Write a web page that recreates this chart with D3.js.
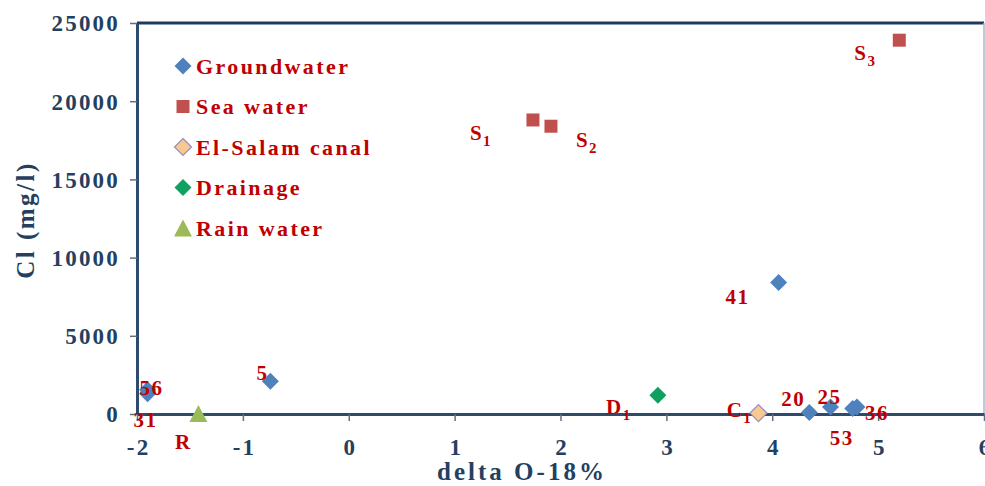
<!DOCTYPE html>
<html><head><meta charset="utf-8">
<script src="https://cdn.jsdelivr.net/npm/d3@7"></script>
<style>html,body{margin:0;padding:0;background:#fff;} svg{display:block;}</style>
</head><body>
<svg id="chart" width="985" height="486"></svg>
<script>
// Groundwater wells
const gwIds = ["56", "31", "5", "41", "20", "25", "36", "53"];
const gwO18 = [-1.9, -1.9, -0.74, 4.06, 4.35, 4.55, 4.8, 4.76];
const gwCl = [1550, 1300, 2100, 8400, 100, 450, 450, 350];
// Sea water samples
const seaIds = ["S1", "S2", "S3"];
const seaO18 = [1.74, 1.91, 5.2];
const seaCl = [18800, 18400, 23900];
// El-Salam canal
const canalIds = ["C1"];
const canalO18 = [3.87];
const canalCl = [60];
// Drainage
const drainIds = ["D1"];
const drainO18 = [2.92];
const drainCl = [1200];
// Rain water
const rainIds = ["R"];
const rainO18 = [-1.42];
const rainCl = [30];

const seriesNames = ["Groundwater", "Sea water", "El-Salam canal", "Drainage", "Rain water"];
const xTicks = [-2, -1, 0, 1, 2, 3, 4, 5, 6];
const yTicks = [0, 5000, 10000, 15000, 20000, 25000];
const xTitle = "delta O-18%";
const yTitle = "Cl (mg/l)";

// label placement around each marker (pixels from marker centre)
const labelOffset = {
  "56": [4, -2], "31": [-2, 26], "5": [-8, -8], "41": [-41, 14], "20": [-16, -13],
  "25": [-1, -10], "36": [20, 6], "53": [-11, 29], "S1": [-52, 13], "S2": [36, 14],
  "S3": [-34, 13], "C1": [-19, -3], "D1": [-39, 12], "R": [-15, 28]
};

const NAVY = "#243f60", RED = "#c00000";
const SERIF = "'Liberation Serif', 'Times New Roman', serif";

const styles = {
  "Groundwater": {shape: "diamond", fill: "#4f81bd", stroke: "none"},
  "Sea water": {shape: "square", fill: "#c0504d", stroke: "none"},
  "El-Salam canal": {shape: "diamond", fill: "#f5c98f", stroke: "#9b8ac0"},
  "Drainage": {shape: "diamond", fill: "#10a060", stroke: "none"},
  "Rain water": {shape: "triangle", fill: "#9bbb59", stroke: "none"}
};

function build(name, ids, xs, ys) {
  return ids.map((id, i) => ({series: name, id, x: xs[i], y: ys[i]}));
}
const points = [].concat(
  build("Groundwater", gwIds, gwO18, gwCl),
  build("Sea water", seaIds, seaO18, seaCl),
  build("El-Salam canal", canalIds, canalO18, canalCl),
  build("Drainage", drainIds, drainO18, drainCl),
  build("Rain water", rainIds, rainO18, rainCl)
);

const svg = d3.select("#chart");
const x = d3.scaleLinear().domain([-2, 6]).range([137, 984]);
const y = d3.scaleLinear().domain([0, 25000]).range([414, 23]);

function shapePath(shape, cx, cy) {
  if (shape === "diamond") {
    const r = 8.5;
    return `M${cx},${cy - r}L${cx + r},${cy}L${cx},${cy + r}L${cx - r},${cy}Z`;
  }
  if (shape === "square") {
    const h = 6.5;
    return `M${cx - h},${cy - h}H${cx + h}V${cy + h}H${cx - h}Z`;
  }
  // triangle
  const w = 9, h = 8.5;
  return `M${cx},${cy - h}L${cx + w},${cy + h}L${cx - w},${cy + h}Z`;
}

// plot frame: top and right edges
svg.append("line").attr("x1", x(-2)).attr("x2", x(6)).attr("y1", y(25000)).attr("y2", y(25000))
  .attr("stroke", "#1f3a5f").attr("stroke-width", 3);
svg.append("line").attr("x1", x(6)).attr("x2", x(6)).attr("y1", y(25000)).attr("y2", y(0))
  .attr("stroke", "#a8b8cc").attr("stroke-width", 1.5);

// axes (plain hyphen for negative numbers)
const fmt = d => String(d);
const xAxis = svg.append("g").attr("transform", `translate(0,${y(0)})`)
  .call(d3.axisBottom(x).tickValues(xTicks).tickSize(7).tickSizeOuter(0).tickFormat(fmt));
const yAxis = svg.append("g").attr("transform", `translate(${x(-2)},0)`)
  .call(d3.axisLeft(y).tickValues(yTicks).tickSize(7).tickSizeOuter(0).tickFormat(fmt));

[xAxis, yAxis].forEach(g => {
  g.select(".domain").attr("stroke", "#2e4b6d").attr("stroke-width", 3);
  g.selectAll(".tick line").attr("stroke", "#5f6f80").attr("stroke-width", 1.5);
  g.selectAll(".tick text").attr("fill", NAVY).attr("font-family", SERIF)
    .attr("font-weight", "bold").attr("font-size", 23).attr("letter-spacing", "2.2px");
});
xAxis.selectAll(".tick text").attr("y", 41).attr("dy", 0).attr("dx", 1.1);
yAxis.selectAll(".tick text").attr("x", -17).attr("dy", "0.34em");

// axis titles
svg.append("text").text(xTitle).attr("x", 522).attr("y", 480)
  .attr("text-anchor", "middle").attr("fill", NAVY).attr("font-family", SERIF)
  .attr("font-weight", "bold").attr("font-size", 25).attr("letter-spacing", "3px");
svg.append("text").text(yTitle).attr("transform", "translate(34,220) rotate(-90)")
  .attr("text-anchor", "middle").attr("fill", NAVY).attr("font-family", SERIF)
  .attr("font-weight", "bold").attr("font-size", 25).attr("letter-spacing", "2.5px");

// markers
svg.append("g").selectAll("path").data(points).join("path")
  .attr("d", d => shapePath(styles[d.series].shape, x(d.x), y(d.y)))
  .attr("fill", d => styles[d.series].fill)
  .attr("stroke", d => styles[d.series].stroke)
  .attr("stroke-width", 1.2);

// point labels (letter plus subscript number for surface/sea samples)
const lab = svg.append("g").selectAll("text").data(points).join("text")
  .attr("x", d => x(d.x) + labelOffset[d.id][0])
  .attr("y", d => y(d.y) + labelOffset[d.id][1] + 7)
  .attr("text-anchor", "middle").attr("fill", RED).attr("font-family", SERIF)
  .attr("font-weight", "bold").attr("font-size", 21).attr("letter-spacing", "1.5px");
lab.each(function(d) {
  const t = d3.select(this);
  if (/^[A-Z]\d$/.test(d.id)) {
    t.append("tspan").text(d.id[0]);
    t.append("tspan").text(d.id[1]).attr("font-size", 15).attr("dy", 6);
  } else {
    t.text(d.id);
  }
});

// legend
const legend = svg.append("g").selectAll("g").data(seriesNames).join("g")
  .attr("transform", (d, i) => `translate(183,${66 + i * 40.5})`);
legend.append("path")
  .attr("d", d => shapePath(styles[d].shape, 0, 0))
  .attr("fill", d => styles[d].fill).attr("stroke", d => styles[d].stroke).attr("stroke-width", 1.2);
legend.append("text").text(d => d).attr("x", 13).attr("y", 7.5)
  .attr("fill", RED).attr("font-family", SERIF).attr("font-weight", "bold")
  .attr("font-size", 22).attr("letter-spacing", "2.4px");
</script>
</body></html>
